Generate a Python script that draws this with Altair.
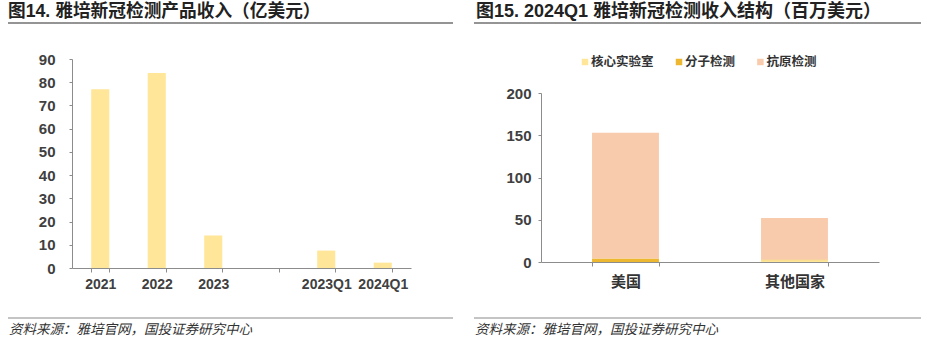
import altair as alt
import pandas as pd

# ---- text ----
left_title = ["图14. 雅培新冠检测产品收入（亿美元）"]
right_title = ["图15. 2024Q1 雅培新冠检测收入结构（百万美元）"]
source_note = ["资料来源：雅培官网，国投证券研究中心"]

# ---- left panel: COVID testing revenue (100M USD) ----
periods = ["2021", "2022", "2023", " ", "2023Q1", "2024Q1"]
revenue = [77.0, 84.0, 14.0, None, 7.5, 2.3]
left_ticks = [0, 10, 20, 30, 40, 50, 60, 70, 80, 90]

# ---- right panel: 2024Q1 breakdown (M USD) ----
regions = ["美国", "其他国家"]
segments = ["核心实验室", "分子检测", "抗原检测"]
core_lab = [0, 2]
molecular = [4, 1]
antigen = [149, 49]
right_ticks = [0, 50, 100, 150, 200]
seg_colors = ["#FFE699", "#EDB72F", "#F8CBAD"]

MIXED = "Liberation Sans, Noto Sans CJK SC"
CJK = "Noto Sans CJK SC"
LATIN = "Liberation Sans"
AXIS_GREY = "#8c8c8c"
LABEL = "#404040"

W1, W2, H = 463, 464, 342
LEGEND_FONT = 12.5


def frame(title, x0, x1, tx, size):
    """Title with rule underneath, bottom rule and source line."""
    one = pd.DataFrame({"t": title})
    src = pd.DataFrame({"t": source_note})
    head = alt.Chart(one).mark_text(
        align="left", baseline="middle", font=MIXED, fontSize=size,
        fontWeight="bold", color="#222222"
    ).encode(x=alt.value(tx), y=alt.value(12), text="t:N")
    top_rule = alt.Chart(one).mark_rule(color="#707070", strokeWidth=1.5).encode(
        x=alt.value(x0), x2=alt.value(x1), y=alt.value(23))
    bottom_rule = alt.Chart(one).mark_rule(color="#8a8a8a", strokeWidth=1.2).encode(
        x=alt.value(x0), x2=alt.value(x1), y=alt.value(318))
    note = alt.Chart(src).mark_text(
        align="left", baseline="middle", font=CJK, fontSize=13.5,
        fontStyle="italic", color="#333333"
    ).encode(x=alt.value(x0 + 1), y=alt.value(330), text="t:N")
    return [head, top_rule, bottom_rule, note]


# left panel bars
bars_df = pd.DataFrame({"period": periods, "revenue": revenue}).dropna()
left_bars = alt.Chart(bars_df).mark_bar(color="#FFE699").encode(
    x=alt.X(
        "period:N", sort=periods,
        scale=alt.Scale(domain=periods, range=[72, 411],
                        paddingInner=0.68, paddingOuter=0.34),
        axis=alt.Axis(title=None, labelAngle=0, offset=-74, tickBand="extent",
                      tickSize=4, labelPadding=5, labelFont=LATIN,
                      labelFontSize=14, labelFontWeight="bold",
                      labelColor=LABEL, domainColor=AXIS_GREY,
                      tickColor=AXIS_GREY, grid=False),
    ),
    y=alt.Y(
        "revenue:Q",
        scale=alt.Scale(domain=[0, 90], range=[268, 59], nice=False),
        axis=alt.Axis(title=None, values=left_ticks, offset=-72, tickSize=3,
                      labelPadding=14, labelFont=LATIN, labelFontSize=15,
                      labelFontWeight="bold", labelColor=LABEL,
                      domainColor=AXIS_GREY, tickColor=AXIS_GREY, grid=False),
    ),
)
left = alt.layer(left_bars, *frame(left_title, 8, 453, 8, 17.7)).properties(
    width=W1, height=H)

# right panel stacked bars
rows = []
for i, r in enumerate(regions):
    for k, (seg, vals) in enumerate(zip(segments, [core_lab, molecular, antigen])):
        rows.append({"region": r, "segment": seg, "k": k, "value": vals[i]})
stack_df = pd.DataFrame(rows)

seg_scale = alt.Scale(domain=segments, range=seg_colors)

right_bars = alt.Chart(stack_df).mark_bar().encode(
    x=alt.X(
        "region:N", sort=regions,
        scale=alt.Scale(domain=regions, range=[78, 416],
                        paddingInner=0.604, paddingOuter=0.302),
        axis=alt.Axis(title=None, labelAngle=0, offset=-80, tickBand="extent",
                      tickSize=4, labelPadding=8, labelFont=CJK,
                      labelFontSize=15, labelFontWeight="bold",
                      labelColor="#333333", domainColor=AXIS_GREY,
                      tickColor=AXIS_GREY, grid=False),
    ),
    y=alt.Y(
        "value:Q", stack="zero",
        scale=alt.Scale(domain=[0, 200], range=[262, 93], nice=False),
        axis=alt.Axis(title=None, values=right_ticks, offset=-78, tickSize=3,
                      labelPadding=7, labelFont=LATIN, labelFontSize=15,
                      labelFontWeight="bold", labelColor=LABEL,
                      domainColor=AXIS_GREY, tickColor=AXIS_GREY, grid=False),
    ),
    color=alt.Color("segment:N", scale=seg_scale, legend=None),
    order=alt.Order("k:Q", sort="ascending"),
)

# horizontal legend laid out from label lengths
lx, legend_rows = 122.0, []
for seg in segments:
    legend_rows.append({"segment": seg, "px": lx})
    lx += len(seg) * 12.6 + 31
legend_df = pd.DataFrame(legend_rows)
legend_marks = alt.Chart(legend_df).mark_square(size=42, opacity=1).encode(
    x=alt.X("px:Q", scale=None), y=alt.value(62),
    color=alt.Color("segment:N", scale=seg_scale, legend=None),
)
legend_text = alt.Chart(legend_df).transform_calculate(
    tx="datum.px + 6"
).mark_text(
    align="left", baseline="middle", font=CJK, fontSize=LEGEND_FONT,
    fontWeight="bold", color="#333333"
).encode(x=alt.X("tx:Q", scale=None), y=alt.value(62), text="segment:N")

right = alt.layer(
    right_bars, legend_marks, legend_text,
    *frame(right_title, 11, 458, 13, 18)
).properties(width=W2, height=H)

chart = alt.hconcat(left, right, spacing=0).properties(
    padding=0
).configure_view(stroke=None)

chart.save("out.html", embed_options={"renderer": "svg", "actions": False})
